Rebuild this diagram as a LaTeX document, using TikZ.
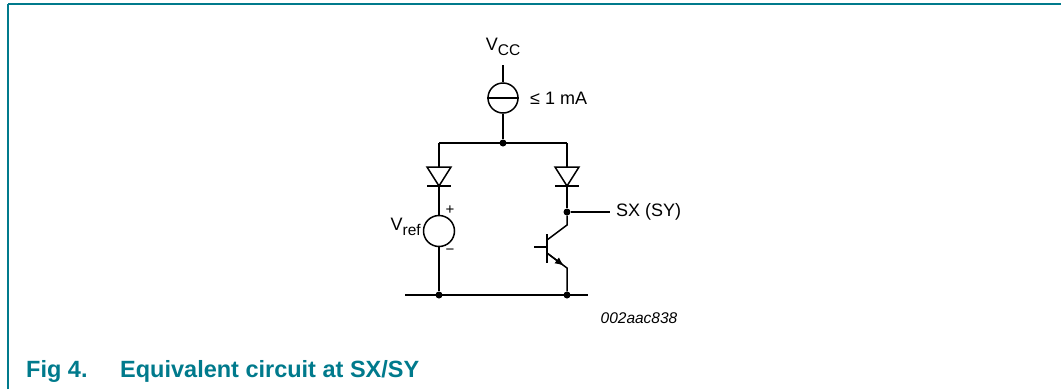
\documentclass[tikz,border=0pt]{standalone}
\usepackage{fontspec}
\setmainfont{Liberation Sans}
\usetikzlibrary{arrows.meta}
\definecolor{figteal}{RGB}{0,122,140}

\begin{document}
\begin{tikzpicture}[
    x=1pt, y=-1pt,
    wire/.style={line width=1.5pt},
    src/.style={circle, draw, line width=1.5pt, minimum size=30pt, inner sep=0pt},
    dot/.style={circle, fill, inner sep=0pt, minimum size=7pt},
    lbl/.style={font=\fontsize{18}{20}\selectfont, inner sep=0pt},
    sgn/.style={font=\fontsize{15}{16}\selectfont, inner sep=0pt},
    caption/.style={font=\bfseries\fontsize{23.5}{25}\selectfont, text=figteal, inner sep=0pt, anchor=base west},
    diode/.pic={
        \draw[wire, line join=miter] (-12,-9.5) -- (12,-9.5) -- (0,9.5) -- cycle;
        \draw[wire] (-12,9.5) -- (12,9.5);
        \coordinate (-a) at (0,-9.5);
        \coordinate (-k) at (0,9.5);
    }
]
\useasboundingbox (0,0) rectangle (1061,389);

% Frame
\coordinate (fbl) at (8,389);
\coordinate (ftl) at (8,4);
\coordinate (ftr) at (1061,4);
\draw[figteal, line width=1.5pt] (fbl) -- (ftl);
\draw[figteal, line width=2pt] (ftl) -- (ftr);

% Supply and current source
\node[lbl] (vcc) at (503,47) {V\raisebox{-0.45ex}{\fontsize{15.5}{15}\selectfont CC}};
\coordinate (vcctop) at (503,65);
\node[src] (isrc) at (503,98) {};
\draw[wire] (isrc.west) -- (isrc.east);
\node[lbl, anchor=west] (ilim) at (530,98) {≤ 1 mA};
\node[dot] (jtop) at (503,143) {};
\draw[wire] (vcctop) -- (isrc.north);
\draw[wire] (isrc.south) -- (jtop);

% Top rail
\coordinate (tl) at (439,143);
\coordinate (tr) at (567,143);
\draw[wire] (tl) -- (tr);

% Left branch: diode and reference
\pic (dl) at (439,176.5) {diode};
\node[src, minimum size=31pt] (vref) at (439,231) {};
\node[sgn] (vplus) at (450,210) {+};
\node[sgn] (vminus) at (450,252) {−};
\node[lbl, anchor=east] (vreflbl) at (421,227) {V\raisebox{-0.45ex}{\fontsize{15.5}{15}\selectfont ref}};
\node[dot] (jbl) at (439,295) {};
\draw[wire] (tl) -- (dl-a);
\draw[wire] (dl-k) -- (vref.north);
\draw[wire] (vref.south) -- (jbl);

% Right branch: diode and transistor
\pic (dr) at (567,176.5) {diode};
\node[dot] (jsx) at (567,212) {};
\coordinate (sxend) at (610,212);
\node[lbl, anchor=west] (sxlbl) at (616,212) {SX (SY)};
\draw[wire] (tr) -- (dr-a);
\draw[wire] (dr-k) -- (jsx);
\draw[wire] (jsx) -- (sxend);

\coordinate (qc) at (567,225);
\coordinate (qcb) at (547,240);
\coordinate (qbt) at (547,234);
\coordinate (qbb) at (547,263);
\coordinate (qbin) at (534,247);
\coordinate (qbl) at (547,247);
\coordinate (qeb) at (547,253);
\coordinate (qe) at (567,268);
\coordinate (qtip) at (564,265.8);
\node[dot] (jbr) at (567,295) {};
\draw[wire] (jsx) -- (qc) -- (qcb);
\draw[wire] (qbt) -- (qbb);
\draw[wire] (qbin) -- (qbl);
\draw[wire] (qeb) -- (qe) -- (jbr);
\draw[wire, -{Latex[length=9pt,width=7.5pt]}] (qeb) -- (qtip);

% Bottom rail
\coordinate (bl) at (405,295);
\coordinate (br) at (588,295);
\draw[wire] (bl) -- (br);

% Labels
\node[font=\itshape\fontsize{15.5}{17}\selectfont, inner sep=0pt] (figid) at (639,318) {002aac838};
\node[caption] (fignum) at (26,377) {Fig 4.};
\node[caption] (figtitle) at (120,377) {Equivalent circuit at SX/SY};

\end{tikzpicture}
\end{document}
